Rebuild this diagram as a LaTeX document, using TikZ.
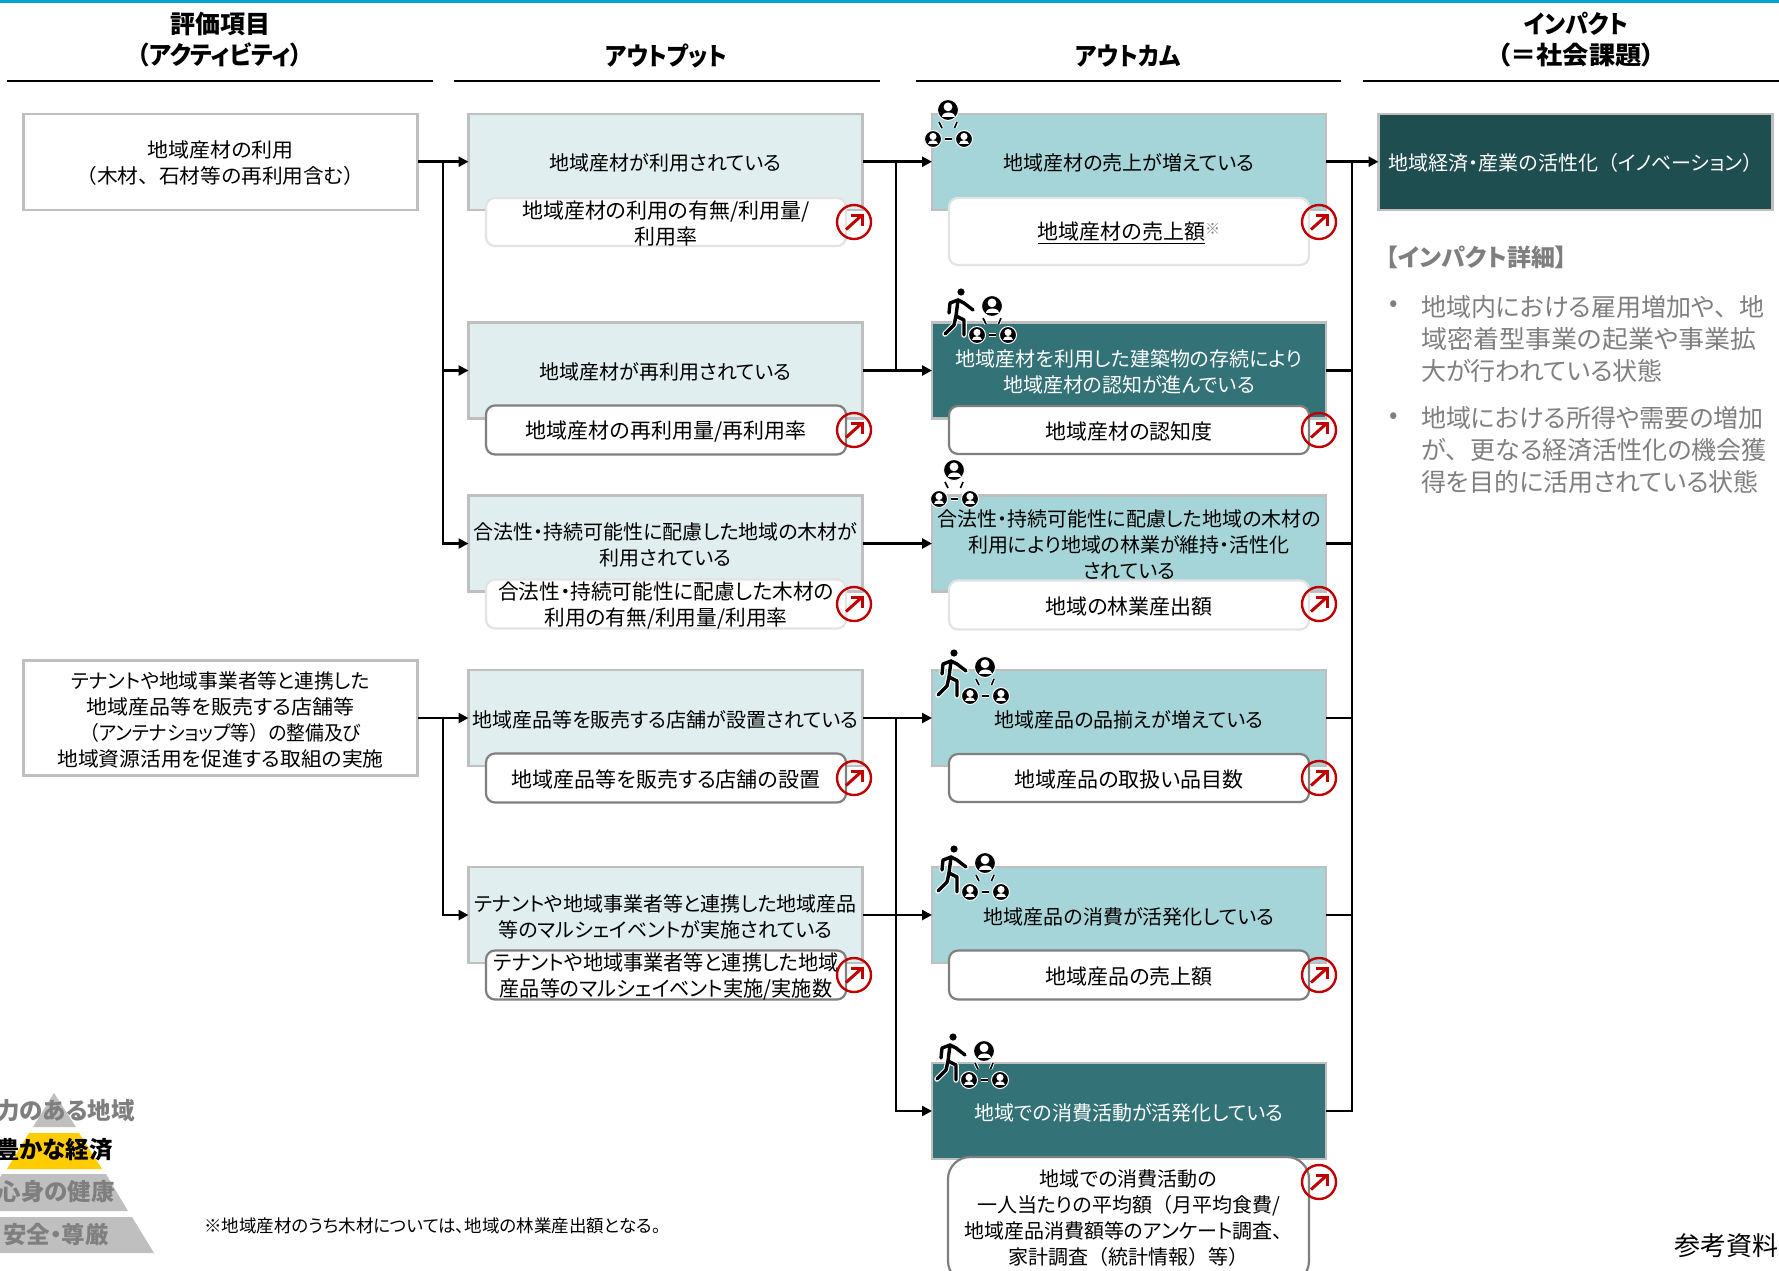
\documentclass[tikz,border=0pt]{standalone}
\usepackage{graphicx}
\usepackage{fontspec}
\setmainfont{Noto Sans CJK JP}[RawFeature={+palt}]
\newfontfamily\nopf{Noto Sans CJK JP}
\newcommand\lp{{\nopf （}}
\newcommand\rp{{\nopf ）}}
\newcommand\cm{{\nopf 、}}
\usetikzlibrary{arrows.meta}
\definecolor{topbar}{HTML}{00A3D4}
\definecolor{boxgrey}{HTML}{BFBFBF}
\definecolor{lightsub}{HTML}{E3E3E3}
\definecolor{darksub}{HTML}{7F7F7F}
\definecolor{outfill}{HTML}{E1EEEF}
\definecolor{midfill}{HTML}{A5D5D8}
\definecolor{darkfill}{HTML}{337277}
\definecolor{impfill}{HTML}{1F4E50}
\definecolor{redc}{HTML}{C00000}
\definecolor{yel}{HTML}{FFCC00}
\definecolor{gtext}{HTML}{7F7F7F}
\newcommand\bodyf{\fontsize{20}{26}\selectfont}
\newcommand\subf{\fontsize{21}{26}\selectfont}
\newcommand\headf{\fontsize{25}{31}\selectfont\bfseries}
\newcommand\pyrf{\fontsize{23.5}{28}\selectfont\bfseries}
\newcommand\detf{\fontsize{25}{32}\selectfont}
\tikzset{
 basebox/.style={draw=boxgrey,line width=2.2pt,inner sep=0pt,outer sep=0pt,minimum width=394pt,minimum height=96pt},
 whitebox/.style={basebox,fill=white},
 outbox/.style={basebox,fill=outfill},
 midbox/.style={basebox,fill=midfill},
 darkbox/.style={basebox,fill=darkfill},
 impbox/.style={basebox,fill=impfill},
 subbase/.style={line width=2.2pt,fill=white,rounded corners=9pt,inner sep=0pt,outer sep=0pt},
 sublight/.style={subbase,draw=lightsub},
 subdark/.style={subbase,draw=darksub},
 maintext/.style={inner sep=0pt,align=center,font=\bodyf},
 subtext/.style={inner sep=0pt,align=center,font=\subf},
 head/.style={inner sep=0pt,align=center,font=\headf},
 rule/.style={line width=2pt,draw=black},
 conn/.style={line width=2.6pt,draw=black},
 arr/.style={conn,-{Triangle[length=10pt,width=10pt]}},
 pyrt/.style={inner sep=0pt,anchor=east,font=\pyrf},
 dett/.style={inner sep=0pt,anchor=west,align=left,font=\detf,text=gtext},
}
% main box and its text; #1 name, #2 style, #3 x, #4 y, #5 height, #6 text colour, #7 text
\newcommand\mainb[7]{%
 \node[#2,minimum height=#5pt] (#1) at (#3,#4) {};
 \node[maintext,text=#6,yshift=-1.5pt] (#1t) at (#3,#4) {#7};}
% rounded sub box with its text; #1 name, #2 style, #3 x, #4 y, #5 w, #6 h, #7 text
\newcommand\subb[7]{%
 \node[#2,minimum width=#5pt,minimum height=#6pt] (#1) at (#3,#4) {};
 \node[subtext,yshift=-1.5pt] (#1t) at (#3,#4) {#7};}
% red link icon
\newcommand\linkic[3]{%
 \node[circle,draw=redc,line width=2.4pt,minimum size=34pt,inner sep=0pt] (#1) at (#2,#3) {};
 \begin{scope}[shift={(#2,#3)}]
 \draw[redc,line width=3pt] (-8,7.5) -- (7,-6);
 \draw[redc,line width=3pt] (-3,-7) -- (8,-7) -- (8,4);
 \end{scope}}
\newcommand\pers[3]{%
 \begin{scope}[shift={(#1,#2)},scale=#3]
 \fill[black,draw=white,line width=1pt] (0,0) circle (1);
 \fill[white] (0,-.3) circle (.42);
 \fill[white] (-.62,.62) .. controls (-.62,.05) and (.62,.05) .. (.62,.62) -- cycle;
 \end{scope}}
\newcommand\netic[2]{%
 \begin{scope}[shift={(#1,#2)}]
 \foreach \a/\b/\c/\d in {-9/12/-6/18, 9/12/6.5/18, -3/29/4/29}{
 \draw[white,line width=3.5pt] (\a,\b) -- (\c,\d);
 \draw[black,line width=1.6pt] (\a,\b) -- (\c,\d);}
 \pers{0}{0}{10.5}
 \pers{-15}{29}{8.5}
 \pers{16}{29}{8.5}
 \end{scope}}
\newcommand\walkic[2]{%
 \begin{scope}[shift={(#1,#2)},line cap=round,line join=round]
 \foreach \cl/\wd in {white/5.5pt,black/3.4pt}{
 \draw[\cl,line width=\wd] (-3,8) -- (-5,24) -- (-7,33) -- (-16,42);
 \draw[\cl,line width=\wd] (-5,24) -- (3,28) -- (3,43);
 \draw[\cl,line width=\wd] (12,18) -- (3,11) -- (-3,8) -- (-11,11) -- (-12,21);}
 \fill[black] (0,0) circle (3.6);
 \end{scope}}
\begin{document}
\begin{tikzpicture}[x=1pt,y=-1pt]
\useasboundingbox (0,0) rectangle (1779,1270);
\clip (0,0) rectangle (1779,1270);
\fill[topbar] (0,0) rectangle (1779,3);
% column heads
\node[head] (h1) at (220,40) {評価項目\\\scalebox{.94}[1]{（アクティビティ）}};
\node[head] (h2) at (666,56) {\scalebox{.914}[1]{アウトプット}};
\node[head] (h3) at (1128,56) {\scalebox{.92}[1]{アウトカム}};
\node[head] (h4) at (1576,40) {\scalebox{.92}[1]{インパクト}\\\scalebox{1.05}[1]{（＝社会課題）}};
\coordinate (r1a) at (7,81); \coordinate (r1b) at (433,81);
\coordinate (r2a) at (454,81); \coordinate (r2b) at (880,81);
\coordinate (r3a) at (916,81); \coordinate (r3b) at (1341,81);
\coordinate (r4a) at (1363,81); \coordinate (r4b) at (1779,81);
\draw[rule] (r1a) -- (r1b);
\draw[rule] (r2a) -- (r2b);
\draw[rule] (r3a) -- (r3b);
\draw[rule] (r4a) -- (r4b);
% activities
\mainb{a1}{whitebox}{220.5}{161.7}{96}{black}{\scalebox{1.05}[1]{地域産材の利用}\\\scalebox{1.035}[1]{\lp 木材\cm 石材等の再利用含む\rp}}
\mainb{a2}{whitebox}{220.5}{718}{115}{black}{\scalebox{.985}[1]{テナントや地域事業者等と連携した}\\\scalebox{1.05}[1]{地域産品等を販売する店舗等}\\\scalebox{.94}[1]{\lp アンテナショップ等\rp の整備及び}\\\scalebox{1.04}[1]{地域資源活用を促進する取組の実施}}
% outputs
\mainb{p1}{outbox}{665.5}{161.7}{96}{black}{地域産材が利用されている}
\mainb{p2}{outbox}{665.5}{370.5}{96}{black}{地域産材が再利用されている}
\mainb{p3}{outbox}{665.5}{543.5}{96}{black}{合法性・持続可能性に配慮した地域の木材が\\利用されている}
\mainb{p4}{outbox}{665.5}{718}{96}{black}{地域産品等を販売する店舗が設置されている}
\mainb{p5}{outbox}{665.5}{915}{96}{black}{テナントや地域事業者等と連携した地域産品\\等のマルシェイベントが実施されている}
\subb{ps1}{sublight}{666}{222}{360}{48}{地域産材の利用の有無/利用量/\\利用率}
\subb{ps2}{subdark}{666}{430}{360}{49}{地域産材の再利用量/再利用率}
\subb{ps3}{sublight}{666}{604}{360}{49}{\scalebox{.985}[1]{合法性・持続可能性に配慮した木材の}\\\scalebox{.985}[1]{利用の有無/利用量/利用率}}
\subb{ps4}{subdark}{666}{778}{360}{49}{地域産品等を販売する店舗の設置}
\subb{ps5}{subdark}{666}{975}{360}{49}{\scalebox{.96}[1]{テナントや地域事業者等と連携した地域}\\\scalebox{.96}[1]{産品等のマルシェイベント実施/実施数}}
% outcomes
\mainb{q1}{midbox}{1129}{161.7}{96}{black}{地域産材の売上が増えている}
\mainb{q2}{darkbox}{1129}{370.5}{96}{white}{地域産材を利用した建築物の存続により\\地域産材の認知が進んでいる}
\mainb{q3}{midbox}{1129}{543.5}{96}{black}{合法性・持続可能性に配慮した地域の木材の\\利用により地域の林業が維持・活性化\\されている}
\mainb{q4}{midbox}{1129}{718}{96}{black}{地域産品の品揃えが増えている}
\mainb{q5}{midbox}{1129}{915}{96}{black}{地域産品の消費が活発化している}
\mainb{q6}{darkbox}{1129}{1111}{96}{white}{地域での消費活動が活発化している}
\subb{qs1}{sublight}{1129}{231.5}{360}{67}{\underline{地域産材の売上額}\raisebox{.45ex}{\fontsize{15}{15}\selectfont\color{darksub}※}}
\subb{qs2}{subdark}{1129}{430}{360}{48}{地域産材の認知度}
\subb{qs3}{sublight}{1129}{605}{360}{49}{地域の林業産出額}
\subb{qs4}{subdark}{1129}{778}{360}{48}{地域産品の取扱い品目数}
\subb{qs5}{subdark}{1129}{975}{360}{49}{地域産品の売上額}
\node[subdark,rounded corners=22pt,minimum width=361pt,minimum height=126pt] (qs6) at (1128.5,1220) {};
\node[maintext] (qs6t) at (1128.5,1218) {地域での消費活動の\\一人当たりの平均額\lp 月平均食費/\\地域産品消費額等のアンケート調査\cm \\家計調査\lp 統計情報\rp 等\rp};
% impact
\mainb{i1}{impbox}{1575.5}{161.7}{96}{white}{地域経済・産業の活性化\lp イノベーション\rp}
\node[inner sep=0pt,anchor=west,font=\fontsize{24}{30}\selectfont\bfseries,text=gtext] (dh) at (1386,257) {【インパクト詳細】};
\node[inner sep=0pt,font=\detf,text=gtext] (b1) at (1394,306) {•};
\node[inner sep=0pt,font=\detf,text=gtext] (b2) at (1394,418) {•};
\node[dett] (d1) at (1421,339) {地域内における雇用増加や\cm 地\\\scalebox{1.04}[1]{域密着型事業の起業や事業拡}\\大が行われている状態};
\node[dett] (d2) at (1421,450.5) {地域における所得や需要の増加\\が\cm 更なる経済活性化の機会獲\\得を目的に活用されている状態};
% connectors
\coordinate (j1) at (443,161.7);
\coordinate (j2) at (443,718);
\coordinate (j3) at (896,161.7);
\coordinate (j4) at (896,718);
\coordinate (j5) at (1352,161.7);
\draw[arr] (a1) -- (p1);
\draw[arr] (j1) |- (p2);
\draw[arr] (j1) |- (p3);
\draw[arr] (a2) -- (p4);
\draw[arr] (j2) |- (p5);
\draw[arr] (p1) -- (q1);
\draw[arr] (p2) -- (q2);
\draw[conn] (j3) -- (j3 |- p2);
\draw[arr] (p3) -- (q3);
\draw[arr] (p4) -- (q4);
\draw[arr] (p5) -- (q5);
\draw[arr] (j4) |- (q6);
\draw[arr] (q1) -- (i1);
\draw[conn] (q2) -- (j5 |- q2);
\draw[conn] (q3) -- (j5 |- q3);
\draw[conn] (q4) -- (j5 |- q4);
\draw[conn] (q5) -- (j5 |- q5);
\draw[conn] (q6) -| (j5);
% link icons
\linkic{lp1}{854}{222}
\linkic{lp2}{854}{430}
\linkic{lp3}{854}{604}
\linkic{lp4}{854}{778}
\linkic{lp5}{854}{975}
\linkic{lq1}{1319}{222}
\linkic{lq2}{1319}{430}
\linkic{lq3}{1319}{604}
\linkic{lq4}{1319}{778}
\linkic{lq5}{1319}{975}
\linkic{lq6}{1319}{1182}
% people icons
\netic{948}{110}
\netic{992}{306}\walkic{961}{292}
\netic{954}{470}
\netic{985}{667}\walkic{954}{653}
\netic{985}{863}\walkic{954}{849}
\netic{984}{1051}\walkic{953}{1037}
% pyramid
\fill[boxgrey] (54,1093) -- (76,1127) -- (33,1127) -- cycle;
\fill[yel] (29,1133) -- (79,1133) -- (102,1169) -- (7,1169) -- cycle;
\fill[boxgrey] (2,1174) -- (106,1174) -- (128,1211) -- (-20,1211) -- cycle;
\fill[boxgrey] (-24,1217) -- (132,1217) -- (154,1253) -- (-46,1253) -- cycle;
\node[pyrt,text=gtext] (y1) at (135,1111) {力のある地域};
\node[pyrt,text=black] (y2) at (113,1150) {豊かな経済};
\node[pyrt,text=gtext] (y3) at (115,1192) {心身の健康};
\node[pyrt,text=gtext] (y4) at (109,1235) {安全・尊厳};
% notes
\node[inner sep=0pt,anchor=west,font=\fontsize{17.5}{22}\selectfont] (fn) at (204,1226) {※地域産材のうち木材については、地域の林業産出額となる。};
\node[inner sep=0pt,anchor=east,font=\fontsize{26}{30}\selectfont] (rf) at (1779,1246) {参考資料};
\end{tikzpicture}
\end{document}
